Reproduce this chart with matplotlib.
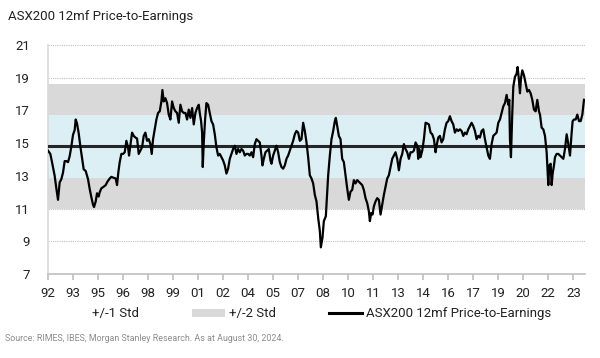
import matplotlib
matplotlib.use("Agg")
import matplotlib.pyplot as plt
from matplotlib.patches import Patch
from matplotlib.lines import Line2D

plt.rcParams['font.family'] = ['Roboto', 'DejaVu Sans']

# values (decimal year, forward P/E)
years = [
    1992.00, 1992.14, 1992.26, 1992.40, 1992.50, 1992.60, 1992.70, 1992.80, 1992.90, 1993.00,
    1993.10, 1993.20, 1993.30, 1993.40, 1993.50, 1993.60, 1993.66, 1993.74, 1993.84, 1993.94,
    1994.04, 1994.14, 1994.26, 1994.40, 1994.50, 1994.60, 1994.70, 1994.76, 1994.86, 1994.94,
    1995.04, 1995.10, 1995.20, 1995.34, 1995.46, 1995.56, 1995.70, 1995.80, 1995.94, 1996.06,
    1996.14, 1996.22, 1996.30, 1996.40, 1996.50, 1996.60, 1996.70, 1996.80, 1996.86, 1996.94,
    1997.04, 1997.14, 1997.24, 1997.34, 1997.44, 1997.54, 1997.64, 1997.74, 1997.84, 1997.94,
    1998.04, 1998.14, 1998.22, 1998.30, 1998.40, 1998.50, 1998.60, 1998.70, 1998.80, 1998.86,
    1998.94, 1999.04, 1999.14, 1999.24, 1999.34, 1999.44, 1999.54, 1999.64, 1999.74, 1999.84,
    1999.94, 2000.04, 2000.14, 2000.24, 2000.34, 2000.44, 2000.54, 2000.64, 2000.74, 2000.84,
    2000.94, 2001.04, 2001.10, 2001.18, 2001.24, 2001.28, 2001.34, 2001.42, 2001.50, 2001.60,
    2001.70, 2001.80, 2001.90, 2002.00, 2002.10, 2002.20, 2002.30, 2002.40, 2002.50, 2002.60,
    2002.70, 2002.80, 2002.90, 2003.00, 2003.10, 2003.20, 2003.30, 2003.40, 2003.50, 2003.60,
    2003.70, 2003.80, 2003.90, 2004.00, 2004.10, 2004.20, 2004.30, 2004.40, 2004.50, 2004.60,
    2004.70, 2004.80, 2004.86, 2004.94, 2005.04, 2005.14, 2005.24, 2005.34, 2005.40, 2005.50,
    2005.60, 2005.70, 2005.80, 2005.90, 2006.00, 2006.10, 2006.20, 2006.30, 2006.40, 2006.50,
    2006.60, 2006.70, 2006.80, 2006.90, 2007.00, 2007.10, 2007.20, 2007.30, 2007.40, 2007.50,
    2007.60, 2007.70, 2007.80, 2007.90, 2008.00, 2008.10, 2008.20, 2008.30, 2008.36, 2008.46,
    2008.54, 2008.66, 2008.74, 2008.80, 2008.90, 2009.00, 2009.10, 2009.20, 2009.26, 2009.34,
    2009.44, 2009.54, 2009.64, 2009.74, 2009.84, 2009.94, 2010.04, 2010.14, 2010.24, 2010.34,
    2010.44, 2010.54, 2010.64, 2010.74, 2010.84, 2010.94, 2011.04, 2011.14, 2011.24, 2011.30,
    2011.38, 2011.46, 2011.54, 2011.64, 2011.74, 2011.84, 2011.94, 2012.04, 2012.14, 2012.24,
    2012.34, 2012.44, 2012.54, 2012.64, 2012.74, 2012.84, 2012.94, 2013.04, 2013.14, 2013.24,
    2013.34, 2013.44, 2013.54, 2013.64, 2013.74, 2013.84, 2013.94, 2014.04, 2014.14, 2014.20,
    2014.26, 2014.34, 2014.44, 2014.54, 2014.64, 2014.74, 2014.84, 2014.94, 2015.04, 2015.14,
    2015.24, 2015.30, 2015.40, 2015.50, 2015.60, 2015.70, 2015.80, 2015.90, 2016.00, 2016.10,
    2016.20, 2016.30, 2016.40, 2016.50, 2016.60, 2016.70, 2016.80, 2016.90, 2017.00, 2017.10,
    2017.20, 2017.30, 2017.40, 2017.50, 2017.60, 2017.70, 2017.80, 2017.90, 2018.00, 2018.10,
    2018.20, 2018.30, 2018.40, 2018.50, 2018.60, 2018.70, 2018.80, 2018.90, 2019.00, 2019.10,
    2019.20, 2019.30, 2019.40, 2019.50, 2019.60, 2019.66, 2019.70, 2019.76, 2019.84, 2019.90,
    2020.00, 2020.10, 2020.16, 2020.24, 2020.30, 2020.36, 2020.44, 2020.54, 2020.64, 2020.74,
    2020.84, 2020.94, 2021.04, 2021.14, 2021.24, 2021.34, 2021.44, 2021.50, 2021.60, 2021.70,
    2021.80, 2021.90, 2021.96, 2022.00, 2022.06, 2022.14, 2022.20, 2022.26, 2022.34, 2022.40,
    2022.50, 2022.60, 2022.70, 2022.80, 2022.90, 2023.00, 2023.10, 2023.20, 2023.30, 2023.40,
    2023.46, 2023.54, 2023.64, 2023.74, 2023.84, 2023.94, 2024.04, 2024.14,
]
pe = [
    14.54, 14.34, 13.74, 13.00, 12.24, 11.54, 12.60, 12.80, 13.20, 13.90,
    13.90, 13.84, 14.20, 14.80, 15.50, 15.80, 16.44, 16.20, 15.60, 14.80,
    14.10, 13.40, 13.30, 12.80, 12.20, 11.70, 11.24, 11.10, 11.44, 11.94,
    11.74, 12.00, 12.24, 12.34, 12.44, 12.64, 12.84, 12.94, 12.88, 12.84,
    12.44, 13.24, 13.84, 14.34, 14.34, 14.44, 15.14, 14.74, 14.24, 14.84,
    15.64, 15.44, 15.34, 15.28, 14.34, 14.54, 14.74, 15.44, 15.64, 15.14,
    15.24, 14.94, 14.34, 15.24, 15.84, 16.44, 16.84, 16.94, 17.54, 18.24,
    17.54, 17.74, 17.44, 16.74, 16.44, 17.54, 17.14, 16.94, 16.84, 16.24,
    17.34, 16.94, 16.84, 16.84, 16.44, 17.04, 16.54, 17.14, 16.14, 16.84,
    17.14, 17.34, 16.84, 16.34, 15.64, 13.54, 15.04, 16.44, 17.44, 17.34,
    16.84, 16.34, 16.14, 15.54, 14.74, 14.24, 14.34, 14.14, 13.94, 13.64,
    13.14, 13.44, 14.04, 14.34, 14.64, 14.84, 14.34, 14.64, 14.44, 14.64,
    14.54, 14.24, 14.34, 14.34, 14.24, 14.44, 14.14, 14.94, 15.24, 15.14,
    15.04, 14.24, 13.64, 14.04, 14.44, 14.54, 14.64, 13.94, 13.74, 14.24,
    14.54, 14.84, 14.44, 13.84, 13.54, 13.44, 13.64, 14.04, 14.24, 14.54,
    14.84, 15.14, 15.54, 15.74, 15.64, 15.14, 15.24, 16.24, 15.74, 15.04,
    14.14, 13.04, 12.84, 12.54, 11.84, 11.44, 10.44, 9.64, 8.64, 9.24,
    10.24, 10.54, 12.04, 13.04, 14.24, 15.24, 15.74, 16.34, 16.54, 16.04,
    15.44, 15.24, 14.04, 13.84, 13.04, 12.24, 11.54, 12.04, 12.14, 12.74,
    12.54, 12.74, 12.64, 12.54, 12.44, 12.14, 11.64, 11.34, 10.84, 10.24,
    10.74, 10.64, 11.14, 11.44, 11.64, 11.54, 10.64, 11.24, 11.84, 12.34,
    12.84, 13.04, 13.54, 14.04, 14.24, 14.44, 14.04, 13.34, 14.04, 14.34,
    14.94, 14.64, 14.44, 14.04, 14.44, 14.44, 14.54, 15.04, 14.84, 14.04,
    14.64, 14.14, 14.54, 15.24, 16.24, 16.20, 16.14, 15.64, 15.54, 15.24,
    14.44, 14.84, 15.34, 15.44, 15.04, 15.24, 15.84, 16.24, 16.34, 16.64,
    16.34, 16.14, 15.64, 15.84, 15.74, 15.84, 15.74, 15.44, 15.64, 15.54,
    15.84, 16.04, 16.24, 16.04, 15.74, 15.24, 15.44, 15.34, 15.74, 15.84,
    15.24, 14.74, 14.24, 14.04, 14.94, 15.44, 15.54, 15.64, 16.24, 16.44,
    16.84, 17.24, 17.44, 17.94, 17.34, 17.64, 15.24, 14.14, 16.84, 18.44,
    19.04, 19.24, 19.64, 18.84, 18.04, 18.94, 19.44, 19.14, 18.64, 18.14,
    18.24, 18.04, 17.64, 17.04, 16.94, 17.64, 16.94, 16.74, 15.94, 15.84,
    15.44, 14.44, 13.24, 12.44, 13.64, 13.74, 12.44, 13.14, 13.64, 14.14,
    14.34, 14.34, 14.24, 14.14, 14.04, 14.64, 15.54, 14.94, 14.24, 15.64,
    16.34, 16.44, 16.44, 16.74, 16.34, 16.34, 16.74, 17.64,
]

pe_mean = 14.8
pe_std = 1.9
tick_years = [1992 + 1.5 * i for i in range(22)]
tick_labels = ['92', '93', '95', '96', '98', '99', '01', '02', '04', '05', '07',
               '08', '10', '11', '13', '14', '16', '17', '19', '20', '22', '23']

fig = plt.figure(figsize=(6, 3.58), dpi=100)
ax = fig.add_axes([0.08, 0.234, 0.895, 0.641])

grey = '#d9d9d9'
blue = '#dbeff4'
ax.axhspan(pe_mean - 2 * pe_std, pe_mean + 2 * pe_std, color=grey, lw=0, zorder=1)
ax.axhspan(pe_mean - pe_std, pe_mean + pe_std, color=blue, lw=0, zorder=1.5)
ax.axhline(pe_mean, color='#262626', lw=2.2, zorder=3)
ax.plot(years, pe, color='black', lw=1.6, zorder=4)

ax.set_xlim(1992, 2024.2)
ax.set_ylim(7, 21)
ax.set_yticks(range(7, 22, 2))
ax.set_xticks(tick_years)
ax.set_xticklabels(tick_labels)
ax.yaxis.grid(True, color='#bfbfbf', ls=(0, (1, 1)), lw=0.8, zorder=0)
ax.set_axisbelow(True)

for s in ['top', 'right']:
    ax.spines[s].set_visible(False)
ax.spines['left'].set_color('#d9d9d9')
ax.spines['left'].set_linewidth(1.2)
ax.spines['bottom'].set_color('#bfbfbf')
ax.spines['bottom'].set_linewidth(1.2)
ax.tick_params(axis='y', length=0, labelsize=9.5, pad=13, colors='#222222')
ax.tick_params(axis='x', length=4, width=1.2, color='#bfbfbf', labelsize=9.5,
               labelcolor='#222222', pad=5)

fig.text(0.013, 0.955, 'ASX200 12mf Price-to-Earnings', fontsize=9.5, color='#222222',
         va='center', ha='left')
fig.text(0.008, 0.055, 'Source: RIMES, IBES, Morgan Stanley Research. As at August 30, 2024.',
         fontsize=6.4, color='#8c8c8c', va='center', ha='left')

handles = [Patch(facecolor='white', edgecolor='none'),
           Patch(facecolor=grey, edgecolor='none'),
           Line2D([0], [0], color='black', lw=2.2)]
labels = ['+/-1 Std', '+/-2 Std', 'ASX200 12mf Price-to-Earnings']
fig.legend(handles, labels, loc='center', bbox_to_anchor=(0.505, 0.123), ncol=3,
           frameon=False, fontsize=9.5, handlelength=2.5, handleheight=0.55,
           handletextpad=0.3, columnspacing=4.0, labelcolor='#222222')

fig.savefig('out.png', dpi=100)
